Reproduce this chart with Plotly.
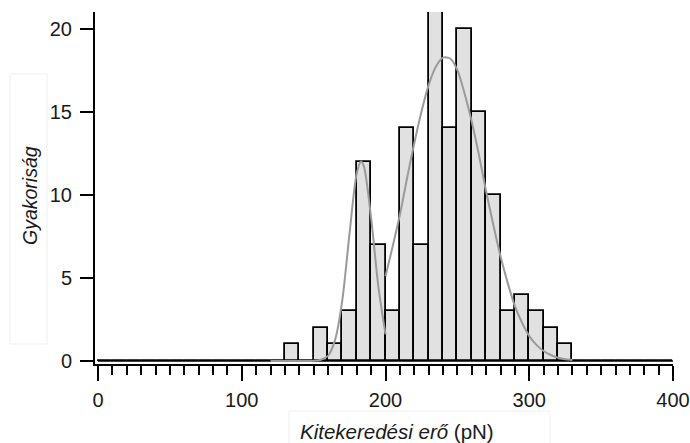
import plotly.graph_objects as go

# ---- data ----
bin_width = 10
bin_left = list(range(0, 400, 10))
counts = [0]*13 + [1, 0, 2, 1, 3, 12, 7, 3, 14, 7, 21, 14, 20, 15, 10, 3, 4, 3, 2, 1] + [0]*7

fit1_x = [120, 130, 140, 150, 155, 160, 165, 170, 175, 180, 183, 185, 190, 195, 200]
fit1_y = [0, 0, 0, 0.01, 0.08, 0.31, 1.3, 3.7, 7.7, 11.3, 12.0, 11.7, 8.6, 4.5, 1.6]
fit2_x = [200, 205, 210, 215, 220, 225, 230, 235, 240, 245, 250, 255, 260, 265, 270,
          275, 280, 285, 290, 295, 300, 305, 310, 315, 320, 325, 330]
fit2_y = [5.1, 6.9, 8.8, 11.0, 13.1, 15.0, 16.6, 17.7, 18.25, 18.2, 17.5, 16.1, 14.4, 12.4, 10.2,
          8.2, 6.3, 4.7, 3.3, 2.3, 1.5, 0.97, 0.6, 0.36, 0.2, 0.11, 0.06]

x_ticks = [0, 100, 200, 300, 400]
y_ticks = [0, 5, 10, 15, 20]

FONT = "Arial, Liberation Sans, Helvetica, sans-serif"

fig = go.Figure()

# zero baseline of the histogram (empty bins)
fig.add_trace(go.Scatter(
    x=[bin_left[0], bin_left[-1] + bin_width], y=[0, 0], mode="lines",
    line=dict(color="black", width=1.6), hoverinfo="skip", showlegend=False))

centers = [b + bin_width / 2 for b in bin_left]
fig.add_trace(go.Bar(
    x=centers, y=counts, width=bin_width,
    marker=dict(color="#e1e1e1", line=dict(color="black", width=1.8)),
    showlegend=False))

fig.add_trace(go.Scatter(
    x=fit1_x + [None] + fit2_x, y=fit1_y + [None] + fit2_y, mode="lines",
    line=dict(color="#9a9a9a", width=2, shape="spline", smoothing=0.8),
    connectgaps=False, showlegend=False))

fig.update_layout(
    width=690, height=443,
    margin=dict(l=95, r=17, t=12, b=79),
    paper_bgcolor="white", plot_bgcolor="white",
    font=dict(family=FONT, size=20, color="#1a1a1a"),
    bargap=0,
    xaxis=dict(
        range=[-2.1, 400], tickvals=x_ticks, ticks="outside", ticklen=15, tickwidth=2,
        tickcolor="black", showline=True, linecolor="black", linewidth=2,
        showgrid=False, zeroline=False, ticklabelstandoff=2, automargin=False,
        tickfont=dict(size=20),
        minor=dict(dtick=10, tick0=0, ticks="outside", ticklen=9, tickwidth=1.6,
                   tickcolor="black", showgrid=False),
    ),
    yaxis=dict(
        range=[-0.18, 21], tickvals=y_ticks, ticks="outside", ticklen=13, tickwidth=2,
        tickcolor="black", showline=True, linecolor="black", linewidth=2,
        showgrid=False, zeroline=False, ticklabelstandoff=4, automargin=False,
        tickfont=dict(size=20),
    ),
    annotations=[
        dict(text="<i>Kitekeredési erő</i> (pN)", xref="paper", yref="paper",
             x=(397 - 95) / 578, y=(364 - 431) / 352, xanchor="center", yanchor="middle",
             showarrow=False, font=dict(size=20.5, family=FONT, color="#1a1a1a")),
        dict(text="<i>Gyakoriság</i>", xref="paper", yref="paper",
             x=(30 - 95) / 578, y=(364 - 196) / 352, xanchor="center", yanchor="middle",
             showarrow=False, textangle=-90,
             font=dict(size=19.5, family=FONT, color="#1a1a1a")),
    ],
    shapes=[
        dict(type="rect", xref="paper", yref="paper",
             x0=(10 - 95) / 578, x1=(47 - 95) / 578, y0=(364 - 344) / 352, y1=(364 - 74) / 352,
             line=dict(color="#efefef", width=1), fillcolor="rgba(0,0,0,0)", layer="below"),
        dict(type="rect", xref="paper", yref="paper",
             x0=(289 - 95) / 578, x1=(550 - 95) / 578, y0=(364 - 445) / 352, y1=(364 - 411) / 352,
             line=dict(color="#efefef", width=1), fillcolor="rgba(0,0,0,0)", layer="below"),
    ],
)

fig.write_html("out.html")
